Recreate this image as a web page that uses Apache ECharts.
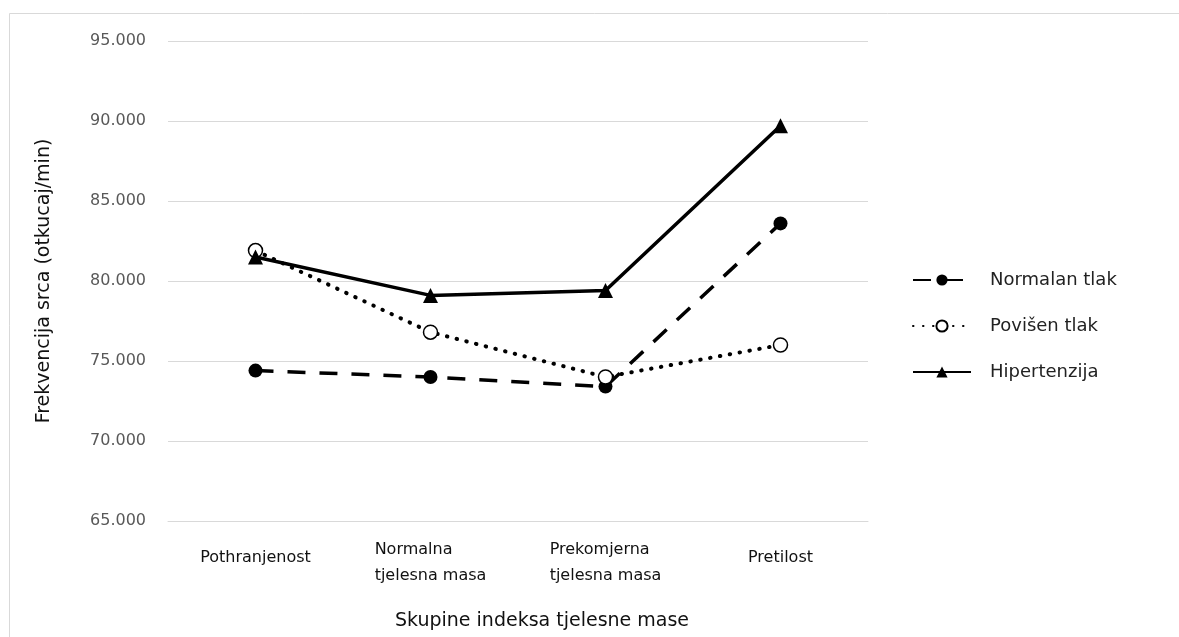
<!DOCTYPE html>
<html>
<head>
<meta charset="utf-8">
<script src="https://cdn.jsdelivr.net/npm/echarts@6/dist/echarts.min.js"></script>
<style>html,body{margin:0;padding:0;background:#fff}#c{width:1179px;height:637px}</style>
</head>
<body>
<div id="c"></div>
<script>
const categories = ['Pothranjenost', 'Normalna\ntjelesna masa', 'Prekomjerna\ntjelesna masa', 'Pretilost'];
const seriesNames = ['Normalan tlak', 'Povišen tlak', 'Hipertenzija'];
const normalanTlak = [74.4, 74.0, 73.4, 83.6];
const povisenTlak = [81.9, 76.8, 74.0, 76.0];
const hipertenzija = [81.5, 79.1, 79.4, 89.7];
const yTicks = [65, 70, 75, 80, 85, 90, 95];

const FONT = 'DejaVu Sans';
const chart = echarts.init(document.getElementById('c'));
chart.setOption({
  backgroundColor: '#fff',
  animation: false,
  graphic: [{
    type: 'rect', shape: {x: 9.5, y: 13.5, width: 1300, height: 700},
    style: {fill: 'none', stroke: '#d9d9d9', lineWidth: 1}, silent: true, z: -10
  }],
  grid: {left: 168, right: 311, top: 41, bottom: 116},
  legend: {
    orient: 'vertical', left: 907, top: 266,
    itemWidth: 58, itemHeight: 14, itemGap: 28,
    textStyle: {fontFamily: FONT, fontSize: 18, color: '#222', padding: [0, 0, 0, 14]},
    data: seriesNames
  },
  xAxis: {
    type: 'category', data: categories, boundaryGap: true,
    axisLine: {lineStyle: {color: '#d9d9d9'}},
    axisTick: {show: false},
    axisLabel: {
      margin: 16, interval: 0, color: '#111', fontFamily: FONT, fontSize: 16,
      formatter: v => v.indexOf('\n') >= 0 ? v.split('\n').map(s => '{l|' + s + '}').join('\n') : '{s|' + v + '}',
      rich: {
        l: {align: 'left', fontFamily: FONT, fontSize: 16, lineHeight: 26, color: '#111'},
        s: {fontFamily: FONT, fontSize: 16, lineHeight: 42, color: '#111'}
      }
    },
    name: 'Skupine indeksa tjelesne mase', nameLocation: 'middle', nameGap: 91,
    nameTextStyle: {fontFamily: FONT, fontSize: 19, color: '#111', padding: [0, 0, 0, 48]}
  },
  yAxis: {
    type: 'value', min: yTicks[0], max: yTicks[yTicks.length - 1], interval: 5,
    axisLine: {show: false}, axisTick: {show: false},
    splitLine: {lineStyle: {color: '#d9d9d9', width: 1}},
    axisLabel: {margin: 22, color: '#595959', fontFamily: FONT, fontSize: 16, formatter: v => v + '.000'},
    name: 'Frekvencija srca (otkucaj/min)', nameLocation: 'middle', nameGap: 114, nameRotate: 90,
    nameTextStyle: {fontFamily: FONT, fontSize: 19, color: '#111'}
  },
  series: [
    {
      name: seriesNames[0], type: 'line', data: normalanTlak,
      symbol: 'circle', symbolSize: 14,
      itemStyle: {color: '#000'},
      lineStyle: {color: '#000', width: 3.5, type: [18, 14]}
    },
    {
      name: seriesNames[1], type: 'line', data: povisenTlak,
      symbol: 'circle', symbolSize: 14,
      itemStyle: {color: '#fff', borderColor: '#000', borderWidth: 1.5},
      lineStyle: {color: '#000', width: 4, type: [0.5, 9.5], cap: 'round'}
    },
    {
      name: seriesNames[2], type: 'line', data: hipertenzija,
      symbol: 'triangle', symbolSize: 15,
      itemStyle: {color: '#000'},
      lineStyle: {color: '#000', width: 3.5}
    }
  ]
});
</script>
</body>
</html>
